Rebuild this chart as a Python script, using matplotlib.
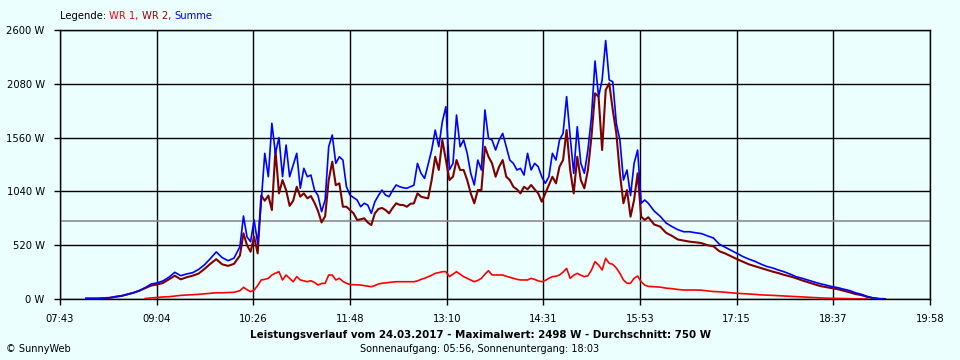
import matplotlib
matplotlib.use("Agg")
import matplotlib.pyplot as plt
import numpy as np

BG = "#EAFFFE"

times = ["08:05","08:10","08:15","08:20","08:25","08:30","08:35","08:40","08:45","08:50","08:55",
         "09:00","09:05","09:10","09:15","09:20","09:25","09:30","09:35","09:40","09:45","09:50","09:55",
         "10:00","10:05","10:10",
         "10:15","10:18","10:21","10:24","10:27","10:30","10:33","10:36","10:39","10:42","10:45","10:48",
         "10:51","10:54","10:57","11:00","11:03","11:06","11:09","11:12","11:15","11:18","11:21","11:24",
         "11:27","11:30","11:33","11:36","11:39","11:42","11:45","11:48","11:51","11:54","11:57","12:00",
         "12:03","12:06","12:09","12:12","12:15","12:18","12:21","12:24","12:27","12:30","12:33","12:36",
         "12:39","12:42","12:45","12:48","12:51","12:54","12:57","13:00","13:03","13:06","13:09","13:12",
         "13:15","13:18","13:21","13:24","13:27","13:30","13:33","13:36","13:39","13:42","13:45","13:48",
         "13:51","13:54","13:57","14:00","14:03","14:06","14:09","14:12","14:15","14:18","14:21","14:24",
         "14:27","14:30","14:33","14:36","14:39","14:42","14:45","14:48","14:51","14:54","14:57","15:00",
         "15:03","15:06","15:09","15:12","15:15","15:18","15:21","15:24","15:27","15:30","15:33","15:36",
         "15:39","15:42","15:45","15:48","15:51","15:54","15:57","16:00",
         "16:05","16:10","16:15","16:20","16:25","16:30","16:35","16:40","16:45","16:50","16:55",
         "17:00","17:05","17:10","17:15","17:20","17:25","17:30","17:35","17:40","17:45","17:50","17:55",
         "18:00","18:05","18:10","18:15","18:20","18:25","18:30","18:35","18:40","18:45","18:50","18:55",
         "19:00","19:05","19:10","19:15","19:20"]

summe = [5,5,5,8,12,22,30,45,60,80,110,
         145,155,175,210,258,225,242,254,285,330,390,455,
         400,370,395,
         506,802,600,554,764,538,940,1408,1182,1698,1408,1560,
         1182,1488,1182,1295,1408,1070,1263,1182,1198,1053,1000,844,
         957,1472,1585,1311,1375,1343,1085,1005,980,957,892,925,
         908,828,940,1000,1053,1005,989,1050,1102,1085,1075,1070,
         1085,1100,1311,1215,1166,1300,1440,1633,1472,1714,1859,1250,
         1311,1778,1472,1537,1408,1215,1102,1343,1247,1827,1553,1537,
         1440,1537,1601,1472,1343,1311,1247,1263,1198,1408,1247,1311,
         1279,1182,1118,1182,1408,1343,1537,1601,1956,1569,1215,1665,
         1311,1215,1440,1762,2300,1956,2117,2498,2117,2100,1698,1537,
         1150,1247,1000,1311,1440,925,957,925,
         850,800,735,700,670,650,650,640,632,610,590,
         530,500,470,440,410,385,365,338,315,300,280,262,
         240,215,200,182,165,148,135,120,110,95,82,60,
         45,25,10,2,0]

wr2 = [5,5,5,8,12,22,30,45,60,80,105,
       130,140,155,190,225,190,210,225,245,290,340,385,
       335,320,340,
       420,635,520,457,602,441,1000,950,1000,860,1440,1021,
       1150,1053,900,950,1085,989,1021,973,995,930,850,740,
       800,1150,1327,1100,1118,892,892,860,828,764,770,780,
       740,715,828,870,880,860,828,880,925,910,908,892,
       920,925,1021,989,980,973,1150,1375,1247,1537,1343,1150,
       1182,1343,1247,1247,1150,1021,925,1053,1053,1472,1375,1311,
       1182,1279,1343,1182,1150,1085,1060,1021,1085,1060,1102,1060,
       1021,940,1021,1100,1182,1118,1279,1343,1633,1247,1021,1375,
       1150,1070,1247,1569,1988,1956,1440,2020,2085,1827,1601,1215,
       925,1053,796,957,1215,796,764,790,
       720,700,640,610,575,565,554,548,540,520,510,
       462,440,412,385,360,335,318,300,282,265,250,232,
       218,200,180,162,145,126,115,105,95,80,65,48,
       38,20,8,2,0]

wr1 = [np.nan]*10 + [5,
       10,15,20,22,28,35,38,40,45,50,55,60,
       60,62,65,
       80,113,90,71,87,130,184,190,200,232,250,264,
       184,232,200,167,216,184,175,167,177,160,135,150,
       152,232,232,184,200,170,152,140,138,135,135,130,
       125,119,130,145,152,155,160,163,167,167,167,167,
       167,167,175,190,200,215,230,248,255,264,264,216,
       240,264,240,216,200,185,167,180,200,240,274,232,
       232,232,232,220,210,200,190,184,184,184,200,190,
       175,167,180,200,216,220,232,260,296,200,230,248,
       230,216,225,280,361,329,280,393,345,335,300,248,
       184,152,152,200,222,167,135,122,
       119,115,105,100,92,87,87,87,85,78,72,
       70,65,60,55,52,48,45,40,38,35,32,29,
       26,22,19,16,13,10,8,7,5,4,3,2,
       1,0,np.nan,np.nan,np.nan]

xtick_labels = ["07:43","09:04","10:26","11:48","13:10","14:31","15:53","17:15","18:37","19:58"]
ytick_vals = [0, 520, 1040, 1560, 2080, 2600]
average = 750

def to_min(s):
    h, m = s.split(":")
    return int(h) * 60 + int(m)

t = np.array([to_min(s) for s in times], dtype=float)
t0 = to_min(xtick_labels[0])
t1 = to_min(xtick_labels[-1])

fig = plt.figure(figsize=(9.6, 3.6), dpi=100, facecolor=BG)
ax = fig.add_axes([60/960, 1-299/360, 870/960, 269/360], facecolor=BG)

ax.set_xlim(t0, t1)
ax.set_ylim(0, 2600)
ax.set_xticks(np.linspace(t0, t1, len(xtick_labels)))
ax.set_xticklabels(xtick_labels)
ax.set_yticks(ytick_vals)
ax.set_yticklabels([f"{v} W" for v in ytick_vals])
ax.grid(True, color="black", linewidth=1.0)
ax.set_axisbelow(True)
for sp in ax.spines.values():
    sp.set_color("black")
    sp.set_linewidth(1.0)
ax.tick_params(direction="out", length=4, width=1.0, color="black",
               labelsize=7.2, pad=7)

ax.axhline(average, color="#8C8C8C", linewidth=1.2, zorder=1.5)

ax.plot(t, wr1, color="#FF0000", linewidth=1.2, zorder=3)
ax.plot(t, wr2, color="#800000", linewidth=1.5, zorder=3.1)
ax.plot(t, summe, color="#0000FF", linewidth=1.2, zorder=3.2)

# legend line
fx = 60/960
fy = 1 - 16/360
parts = [("Legende: ", "black"), ("WR 1, ", "#FF0000"), ("WR 2, ", "#A00000"), ("Summe", "#0000FF")]
renderer = fig.canvas.get_renderer()
x = fx
for txt, col in parts:
    tt = fig.text(x, fy, txt, color=col, fontsize=7.2, va="center", ha="left")
    bb = tt.get_window_extent(renderer=renderer)
    x += bb.width / 960

fig.text(0.5, 1 - 335/360,
         "Leistungsverlauf vom 24.03.2017 - Maximalwert: 2498 W - Durchschnitt: 750 W",
         ha="center", va="center", fontsize=7.4, fontweight="bold")
fig.text(0.5, 1 - 349/360, "Sonnenaufgang: 05:56, Sonnenuntergang: 18:03",
         ha="center", va="center", fontsize=7.0)
fig.text(6/960, 1 - 349/360, "© SunnyWeb", ha="left", va="center", fontsize=7.0)

fig.savefig("out.png", dpi=100, facecolor=BG)
